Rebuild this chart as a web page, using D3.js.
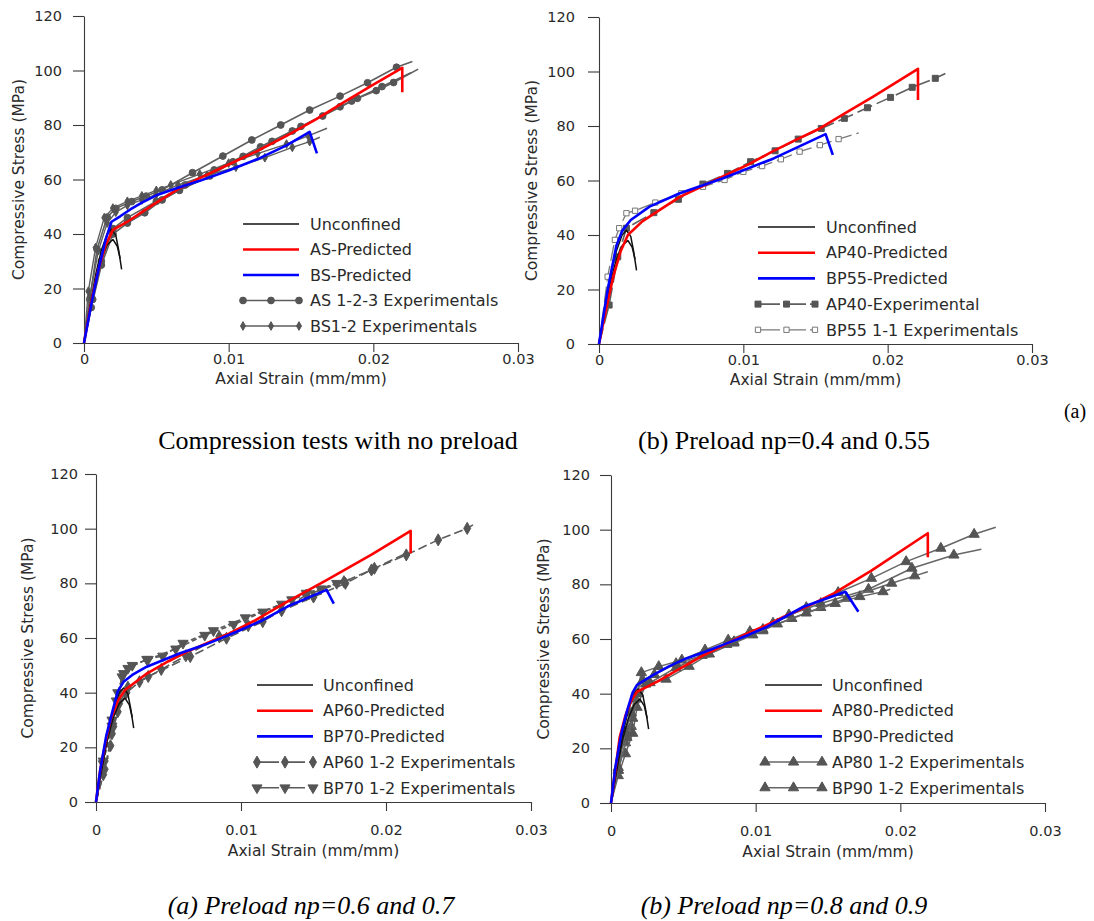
<!DOCTYPE html>
<html><head><meta charset="utf-8">
<script src="https://cdn.jsdelivr.net/npm/d3@7"></script>
<style>body{margin:0;background:#fff}svg{display:block}</style>
</head><body>
<svg id="c" width="1094" height="921"></svg>
<script>
// ---------- tick values ----------
const strainTicks = [0, 0.01, 0.02, 0.03];
const stressTicks = [0, 20, 40, 60, 80, 100, 120];
const strainTickLabels = ["0", "0.01", "0.02", "0.03"];

// ---------- unconfined (two specimens) ----------
const unconfined1 = [[0,0],[0.0004,13],[0.0008,25],[0.0012,34],[0.0016,40],[0.0019,41.7],[0.0022,39.5],[0.0024,34],[0.0026,27]];
const unconfined2 = [[0,0],[0.0004,12],[0.0008,23],[0.0012,31],[0.0016,36],[0.002,38],[0.0023,35.5],[0.0025,31]];

// ---------- panel 1 : no preload ----------
const asPredicted = [[0,0],[0.0005,15],[0.001,27],[0.0015,36],[0.002,41.5],[0.003,44.5],[0.004,48],[0.005,51.5],[0.0065,56.5],[0.008,60.5],[0.01,65.5],[0.012,70.5],[0.014,76],[0.016,82],[0.018,88.5],[0.02,94.8],[0.022,101],[0.022,92]];
const bsPredicted = [[0,0],[0.0005,14],[0.001,27],[0.0015,38],[0.0019,44.5],[0.0025,46.5],[0.0032,49],[0.004,51.5],[0.005,54.2],[0.0065,57],[0.008,59.5],[0.01,63.3],[0.012,67.5],[0.014,72.5],[0.0156,77.5],[0.0161,69.6]];
const as1Exp = [[0,0],[0.0004,16],[0.0009,34.4],[0.0016,46.2],[0.0022,49.4],[0.0033,51.9],[0.0043,53.9],[0.0054,56.2],[0.0075,62.5],[0.0096,68.6],[0.0116,74.5],[0.0136,80],[0.0156,85.5],[0.0177,90.6],[0.0196,95.5],[0.0216,101.2],[0.0227,103.3]];
const as2Exp = [[0,0],[0.0005,13],[0.0012,28.6],[0.002,40],[0.003,44],[0.0042,47.8],[0.0054,52.5],[0.0066,56],[0.0087,61.3],[0.0103,66.5],[0.0122,72],[0.0144,77.8],[0.0165,83.3],[0.0185,88.8],[0.0206,94.1],[0.0226,99.2]];
const as3Exp = [[0,0],[0.0006,16],[0.0012,30],[0.002,42],[0.003,46],[0.005,52],[0.007,58],[0.009,63.5],[0.011,68.5],[0.013,74],[0.015,79.5],[0.0177,86.7],[0.0189,89.8],[0.0202,92.6],[0.0214,95.6],[0.0231,100.5]];
const bs1Exp = [[0,0],[0.0003,19],[0.0008,35],[0.0014,46],[0.002,49.5],[0.003,52],[0.004,54],[0.005,56],[0.006,58],[0.008,62],[0.01,66],[0.012,69.5],[0.014,73],[0.0155,76],[0.0168,78.8]];
const bs2Exp = [[0,0],[0.0004,17],[0.001,34],[0.0016,44],[0.0022,48],[0.003,50.5],[0.004,52.5],[0.005,54.5],[0.0065,58],[0.0085,61.5],[0.0105,64.5],[0.0125,68],[0.0144,71.8],[0.0156,73.9],[0.0163,75.5]];

// ---------- panel 2 : np = 0.4 / 0.55 ----------
const ap40Predicted = [[0,0],[0.0005,13],[0.001,25],[0.0015,34],[0.002,40],[0.003,45],[0.004,48.5],[0.0056,54],[0.0072,58],[0.0088,62],[0.0104,66],[0.012,70.6],[0.0136,74.8],[0.0153,79.1],[0.017,84.5],[0.019,90.8],[0.0221,101],[0.0221,89.5]];
const bp55Predicted = [[0,0],[0.0006,20],[0.0012,36],[0.0016,41.5],[0.0022,45.5],[0.0035,50.4],[0.0056,55.3],[0.0086,60.8],[0.0121,68.1],[0.0157,77],[0.0162,69.4]];
const ap40Exp = [[0,0],[0.0007,14.3],[0.0013,32],[0.0019,42.5],[0.0038,48.2],[0.0055,53.1],[0.0072,58.7],[0.0089,62.6],[0.0105,66.9],[0.0122,70.9],[0.0138,75.2],[0.0154,79.1],[0.017,82.8],[0.0186,86.7],[0.0202,90.5],[0.0217,94.2],[0.0233,97.5],[0.024,99.3]];
const bp55Exp = [[0,0],[0.0006,24.7],[0.0011,38.2],[0.0014,42.5],[0.0019,48],[0.0025,48.9],[0.0039,51.9],[0.0057,55.3],[0.0072,57.7],[0.0087,60.2],[0.01,63.2],[0.0113,65.3],[0.0126,67.8],[0.0139,70.6],[0.0153,73],[0.0166,75.2],[0.018,77.5]];

// ---------- panel 3 : np = 0.6 / 0.7 ----------
const ap60Predicted = [[0,0],[0.0003,12],[0.0007,23],[0.001,30],[0.0015,37],[0.002,41],[0.0035,47],[0.005,51.5],[0.0063,55],[0.0078,58.5],[0.0092,61.7],[0.011,66.5],[0.0132,73.3],[0.0159,81.2],[0.019,90.5],[0.0217,99.2],[0.0217,91]];
const bp70Predicted = [[0,0],[0.0003,12],[0.0007,24],[0.0011,32.4],[0.0015,40.5],[0.0019,44],[0.0025,46.5],[0.0035,49.5],[0.0058,54.4],[0.0075,57.5],[0.0097,62.3],[0.0115,66.5],[0.0132,71.5],[0.0159,77.6],[0.0164,72.6]];
const ap60Exp1 = [[0,0],[0.0005,10],[0.001,20.6],[0.0012,27.6],[0.0016,36],[0.0022,42],[0.0036,45.9],[0.0065,53.2],[0.009,59.9],[0.0115,66],[0.0145,75.7],[0.0171,80.6],[0.019,84.9],[0.0214,90.4],[0.0236,95.9],[0.0256,100.1],[0.026,101.4]];
const ap60Exp2 = [[0,0],[0.0006,12],[0.0011,25],[0.0015,33],[0.0021,40],[0.003,44],[0.0045,48.5],[0.0062,53.5],[0.0085,60.5],[0.0105,64.5],[0.0128,70],[0.015,75],[0.0172,80],[0.0192,85.5],[0.0214,91]];
const bp70Exp1 = [[0,0],[0.0005,15],[0.0011,27.8],[0.0014,37],[0.0018,45.8],[0.0022,48.9],[0.0035,52.2],[0.0046,53.4],[0.006,58.1],[0.0081,62.7],[0.0103,67.4],[0.0128,72.4],[0.0145,76.4],[0.0166,80],[0.0175,81.5]];
const bp70Exp2 = [[0,0],[0.0005,14],[0.0011,30],[0.0015,40],[0.0019,47],[0.0025,50],[0.0036,52.2],[0.0055,56],[0.0075,61],[0.0095,65],[0.0115,69.5],[0.0135,74],[0.0155,78],[0.017,80.5]];

// ---------- panel 4 : np = 0.8 / 0.9 ----------
const ap80Predicted = [[0,0],[0.0003,12],[0.0006,24],[0.001,32],[0.0014,37.5],[0.0018,40.7],[0.0032,44.4],[0.0047,49],[0.0062,53.5],[0.0077,57.5],[0.0092,61.5],[0.0107,65],[0.0122,68.8],[0.0138,72.5],[0.0154,76.7],[0.018,85],[0.0219,98.7],[0.0219,89.9]];
const bp90Predicted = [[0,0],[0.0003,13],[0.0007,25],[0.0011,33.5],[0.0015,40.5],[0.0018,43.2],[0.0029,46.8],[0.004,50],[0.0052,52.9],[0.0066,55.5],[0.008,58.4],[0.0094,61.3],[0.0108,64.5],[0.0133,71.8],[0.0162,77.3],[0.0171,70]];
const ap80Exp1 = [[0,0],[0.0005,12],[0.001,22],[0.0014,28],[0.0017,38],[0.0021,47.7],[0.0033,49.9],[0.0049,52.3],[0.0065,56],[0.0081,59.6],[0.0096,62.7],[0.0112,65.8],[0.0135,71.5],[0.0157,77],[0.018,82.2],[0.0204,88.3],[0.0228,93.2],[0.0251,98.3],[0.0266,100.9]];
const ap80Exp2 = [[0,0],[0.0005,10],[0.001,18],[0.0015,25.5],[0.0018,35],[0.0024,43.5],[0.0038,45.3],[0.0054,50],[0.0068,54.5],[0.0085,58.5],[0.0105,63],[0.0123,68.8],[0.0145,73],[0.0178,78.2],[0.0208,85.9],[0.0237,90.7],[0.0256,92.8]];
const bp90Exp1 = [[0,0],[0.0005,12],[0.0011,24],[0.0015,31],[0.0019,40],[0.0027,44],[0.0045,49.5],[0.0065,54.5],[0.0085,59],[0.0105,63.5],[0.0125,67.5],[0.0145,71.5],[0.0163,74.9],[0.0194,80.4],[0.021,83.1],[0.0219,84.6]];
const bp90Exp2 = [[0,0],[0.0005,13],[0.001,26],[0.0014,33],[0.0017,40],[0.0022,45],[0.003,47],[0.0045,51],[0.0063,54],[0.008,58],[0.0098,61.5],[0.0115,65.5],[0.0135,69.5],[0.0155,73],[0.0172,75.5],[0.0188,77.3],[0.0193,78.2]];

// ---------- labels ----------
const legend1 = ["Unconfined", "AS-Predicted", "BS-Predicted", "AS 1-2-3 Experimentals", "BS1-2 Experimentals"];
const legend2 = ["Unconfined", "AP40-Predicted", "BP55-Predicted", "AP40-Experimental", "BP55 1-1 Experimentals"];
const legend3 = ["Unconfined", "AP60-Predicted", "BP70-Predicted", "AP60 1-2 Experimentals", "BP70 1-2 Experimentals"];
const legend4 = ["Unconfined", "AP80-Predicted", "BP90-Predicted", "AP80 1-2 Experimentals", "BP90 1-2 Experimentals"];
const captions = ["Compression tests with no preload", "(b) Preload np=0.4 and 0.55", "(a) Preload np=0.6 and 0.7", "(b) Preload np=0.8 and 0.9"];
const xTitle = "Axial Strain (mm/mm)";
const yTitle = "Compressive Stress (MPa)";

// ---------- styles ----------
const S = {
  unc:  {color:"#111", width:1.5, dash:null, marker:null},
  red:  {color:"#ff0000", width:2.6, dash:null, marker:null},
  blue: {color:"#0000ff", width:2.6, dash:null, marker:null},
  circ: {color:"#5e5e5e", width:1.6, dash:null, marker:d3.symbolCircle, size:36, fill:"#555", stroke:"#555"},
  dia:  {color:"#5e5e5e", width:1.4, dash:null, marker:d3.symbolDiamond, size:22, fill:"#555", stroke:"#555"},
  sqF:  {color:"#5e5e5e", width:1.6, dash:"16,5", marker:d3.symbolSquare, size:36, fill:"#555", stroke:"#555"},
  sqO:  {color:"#7a7a7a", width:1.3, dash:"16,5", marker:d3.symbolSquare, size:28, fill:"#fff", stroke:"#777"},
  diaD: {color:"#5a5a5a", width:1.6, dash:"9,4", marker:d3.symbolDiamond, size:42, fill:"#555", stroke:"#555"},
  triD: {color:"#5a5a5a", width:1.6, dash:"5,3", marker:d3.symbolTriangle, size:44, fill:"#555", stroke:"#555", rot:180},
  tri:  {color:"#666", width:1.5, dash:null, marker:d3.symbolTriangle, size:46, fill:"#555", stroke:"#555"}
};

const panels = [
  {x0:84, x1:518, yt:16, yb:343, ylabPad:11, yTitleX:19, xLabPad:2, xTitleY:384,
   series:[[as1Exp,S.circ],[as2Exp,S.circ],[as3Exp,S.circ],[bs1Exp,S.dia],[bs2Exp,S.dia],[unconfined1,S.unc],[unconfined2,S.unc],[asPredicted,S.red],[bsPredicted,S.blue]],
   legend:{labels:legend1, styles:[S.unc,S.red,S.blue,S.circ,S.dia], lx1:243, lx2:299, tx:310, y0:224, dy:25.5}},
  {x0:599, x1:1032, yt:17, yb:344, ylabPad:13, yTitleX:532, xLabPad:2, xTitleY:385,
   series:[[ap40Exp,S.sqF],[bp55Exp,S.sqO],[unconfined1,S.unc],[unconfined2,S.unc],[ap40Predicted,S.red],[bp55Predicted,S.blue]],
   legend:{labels:legend2, styles:[S.unc,S.red,S.blue,S.sqF,S.sqO], lx1:758, lx2:815, tx:826, y0:227, dy:25.7}},
  {x0:96, x1:531, yt:474, yb:802, ylabPad:7, yTitleX:28, xLabPad:14, xTitleY:856,
   series:[[ap60Exp1,S.diaD],[ap60Exp2,S.diaD],[bp70Exp1,S.triD],[bp70Exp2,S.triD],[unconfined1,S.unc],[unconfined2,S.unc],[ap60Predicted,S.red],[bp70Predicted,S.blue]],
   legend:{labels:legend3, styles:[S.unc,S.red,S.blue,S.diaD,S.triD], lx1:257, lx2:313, tx:323, y0:685, dy:25.7}},
  {x0:611, x1:1045, yt:475, yb:803, ylabPad:10, yTitleX:544, xLabPad:14, xTitleY:857,
   series:[[ap80Exp1,S.tri],[ap80Exp2,S.tri],[bp90Exp1,S.tri],[bp90Exp2,S.tri],[unconfined1,S.unc],[unconfined2,S.unc],[ap80Predicted,S.red],[bp90Predicted,S.blue]],
   legend:{labels:legend4, styles:[S.unc,S.red,S.blue,S.tri,S.tri], lx1:765, lx2:822, tx:832, y0:685, dy:25.7}}
];

const svg = d3.select("#c");
const FONT = "DejaVu Sans, Verdana, sans-serif";
const TXT = "#2a2a2a";

function drawMarker(g, st, px, py) {
  if (!st.marker) return;
  g.append("path")
    .attr("d", d3.symbol().type(st.marker).size(st.size)())
    .attr("transform", `translate(${px},${py})` + (st.rot ? ` rotate(${st.rot})` : ""))
    .attr("fill", st.fill).attr("stroke", st.stroke).attr("stroke-width", 1);
}

panels.forEach(p => {
  const x = d3.scaleLinear().domain([0, 0.03]).range([p.x0, p.x1]);
  const y = d3.scaleLinear().domain([0, 120]).range([p.yb, p.yt]);
  const g = svg.append("g");

  const ya = g.append("g").attr("transform", `translate(${p.x0},0)`)
    .call(d3.axisLeft(y).tickValues(stressTicks).tickSize(11).tickSizeOuter(0).tickPadding(p.ylabPad));
  const xa = g.append("g").attr("transform", `translate(0,${p.yb})`)
    .call(d3.axisBottom(x).tickValues(strainTicks).tickFormat((d,i)=>strainTickLabels[i]).tickSize(9).tickSizeOuter(0).tickPadding(p.xLabPad));
  [ya, xa].forEach(a => {
    a.selectAll("path, line").attr("stroke", "#3a3a3a").attr("stroke-width", 1.1);
    a.selectAll("text").attr("font-family", FONT).attr("font-size", 14.5).attr("fill", TXT);
  });

  g.append("text").attr("x", (p.x0 + p.x1) / 2).attr("y", p.xTitleY)
    .attr("text-anchor", "middle").attr("font-family", FONT).attr("font-size", 15.5).attr("fill", TXT)
    .text(xTitle);
  g.append("text").attr("transform", `translate(${p.yTitleX},${(p.yt + p.yb) / 2}) rotate(-90)`)
    .attr("text-anchor", "middle").attr("dy", "0.35em").attr("font-family", FONT).attr("font-size", 15.5).attr("fill", TXT)
    .text(yTitle);

  const line = d3.line().x(d => x(d[0])).y(d => y(d[1]));
  p.series.forEach(([data, st]) => {
    g.append("path").attr("d", line(data)).attr("fill", "none")
      .attr("stroke", st.color).attr("stroke-width", st.width)
      .attr("stroke-linejoin", "round").attr("stroke-dasharray", st.dash);
    if (st.marker) data.slice(1, -1).forEach(d => drawMarker(g, st, x(d[0]), y(d[1])));
  });

  const L = p.legend;
  L.labels.forEach((lab, i) => {
    const yy = L.y0 + i * L.dy;
    const st = L.styles[i];
    g.append("line").attr("x1", L.lx1).attr("x2", L.lx2).attr("y1", yy).attr("y2", yy)
      .attr("stroke", st.color).attr("stroke-width", st.width).attr("stroke-dasharray", st.dash ? "22,4" : null);
    if (st.marker) [L.lx1, (L.lx1 + L.lx2) / 2, L.lx2].forEach(mx => drawMarker(g, st, mx, yy));
    g.append("text").attr("x", L.tx).attr("y", yy).attr("dy", "0.36em")
      .attr("font-family", FONT).attr("font-size", 16).attr("fill", TXT).text(lab);
  });
});

const SERIF = "Liberation Serif, Times New Roman, serif";
const capPos = [[338, 449, "normal"], [784, 449, "normal"], [311, 914, "italic"], [784, 914, "italic"]];
captions.forEach((c, i) => {
  svg.append("text").attr("x", capPos[i][0]).attr("y", capPos[i][1]).attr("text-anchor", "middle")
    .attr("font-family", SERIF).attr("font-size", 26).attr("font-style", capPos[i][2]).attr("fill", "#000").text(c);
});
svg.append("text").attr("x", 1075).attr("y", 418).attr("text-anchor", "middle")
  .attr("font-family", SERIF).attr("font-size", 20).attr("fill", "#000").text("(a)");
</script>
</body></html>
